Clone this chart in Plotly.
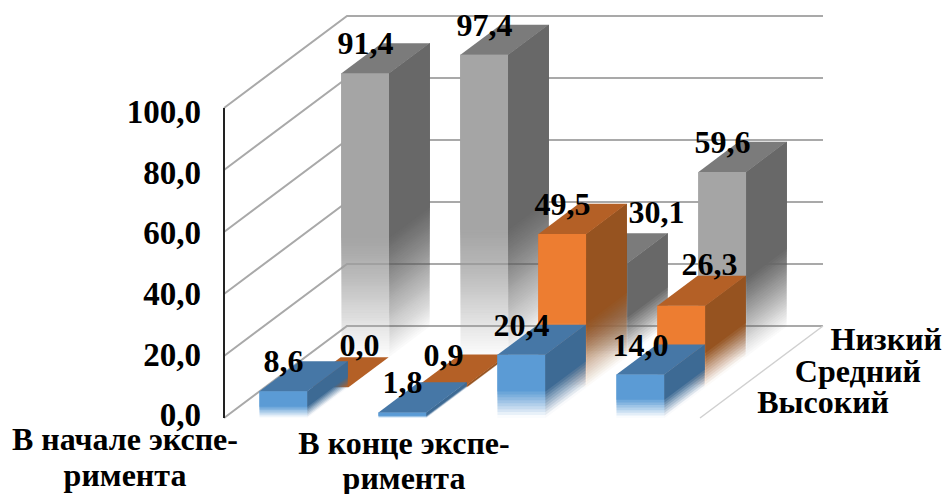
import plotly.graph_objects as go

# ---- data ----
category_lines = ["В начале экспе-", "римента", "В конце экспе-", "римента"]
series_names = ["Высокий", "Средний", "Низкий"]
high_values = [8.6, 1.8, 20.4, 14.0]
mid_values = [0.0, 0.9, 49.5, 26.3]
low_values = [91.4, 97.4, 30.1, 59.6]
axis_ticks = [0, 20, 40, 60, 80, 100]

# ---- oblique projection used as the chart's scale ----
X0, Y0 = 224, 418
PX_PER_UNIT = 3.1
LABEL_PX_PER_UNIT = 3.03
CAT_W = 119
BAR_W = 48
DEPTH_DX, DEPTH_DY = 41, -30.67


def proj(x, depth, value):
    return X0 + x + depth * DEPTH_DX, Y0 - value * PX_PER_UNIT + depth * DEPTH_DY


def fmt(v):
    return f"{v:.1f}".replace(".", ",")


FONT = "Liberation Serif"
GRID = "#a9a9a9"
INK = "#000000"
fig = go.Figure()


def poly(points, color):
    xs = [p[0] for p in points] + [points[0][0]]
    ys = [p[1] for p in points] + [points[0][1]]
    fig.add_trace(go.Scatter(x=xs, y=ys, mode="lines", fill="toself", fillcolor=color,
                             line=dict(width=0, color=color), hoverinfo="skip", showlegend=False))


def line(points, color, width):
    fig.add_trace(go.Scatter(x=[p[0] for p in points], y=[p[1] for p in points], mode="lines",
                             line=dict(width=width, color=color), hoverinfo="skip", showlegend=False))


# walls and floor
for t in axis_ticks:
    line([proj(0, 0, t), proj(0, 3, t), proj(476, 3, t)], GRID, 2)
line([proj(476, 3, 0), proj(476, 0, 0)], "#d0d0d0", 1.5)
line([proj(0, 0, 0), proj(0, 0, 100)], "#222222", 2)

FADE = 0.42


def faded_face(corner, value, rgb):
    """corner(v) gives the face polygon from height v up to the top."""
    layers = max(8, int(value * PX_PER_UNIT * FADE / 2.5))
    prev = 0.0
    for k in range(layers):
        frac = k / (layers - 1)
        target = 0.03 + 0.97 * frac
        a = 1 - (1 - target) / (1 - prev) if prev < 1 else 1
        prev = target
        poly(corner(value * FADE * frac), f"rgba({rgb[0]},{rgb[1]},{rgb[2]},{a:.4f})")


styles = [
    (high_values, (91, 155, 213), "#4677a6", (61, 106, 148)),
    (mid_values, (237, 125, 49), "#b46026", (150, 83, 32)),
    (low_values, (165, 165, 165), "#7b7b7b", (104, 104, 104)),
]

for depth in (2, 1, 0):
    values, front, top, side = styles[depth]
    for i, v in enumerate(values):
        xl = CAT_W * i + (CAT_W - BAR_W) / 2
        xr = xl + BAR_W
        d0, d1 = depth, depth + 0.98
        if v > 0:
            faded_face(lambda h, xl=xl, xr=xr, v=v: [proj(xl, d0, h), proj(xr, d0, h), proj(xr, d0, v), proj(xl, d0, v)], v, front)
            faded_face(lambda h, xr=xr, v=v: [proj(xr, d0, h), proj(xr, d1, h), proj(xr, d1, v), proj(xr, d0, v)], v, side)
        poly([proj(xl, d0, v), proj(xr, d0, v), proj(xr, d1, v), proj(xl, d1, v)], top)

# value labels: most sit above the bar's front face, three are moved aside
label_nudge = {(1, 0): (35, -12), (1, 3): (28, -12), (2, 2): (53, -21)}
lx, ly, lt = [], [], []
for depth in (2, 1, 0):
    values = styles[depth][0]
    for i, v in enumerate(values):
        cx = CAT_W * i + CAT_W / 2
        px, py = proj(cx, depth, v)
        nx, ny = label_nudge.get((depth, i), (0, 0))
        lx.append(px + nx)
        ly.append(py - 27 + ny)
        lt.append(fmt(v))
fig.add_trace(go.Scatter(x=lx, y=ly, mode="text", text=lt, textposition="middle center",
                         textfont=dict(family=FONT, size=32, color=INK), hoverinfo="skip", showlegend=False))

# value axis labels
fig.add_trace(go.Scatter(x=[201] * len(axis_ticks), y=[Y0 - t * LABEL_PX_PER_UNIT for t in axis_ticks], mode="text",
                         text=[fmt(t) for t in axis_ticks], textposition="middle left",
                         textfont=dict(family=FONT, size=33, color=INK), hoverinfo="skip", showlegend=False))

# category labels, one text per line
fig.add_trace(go.Scatter(x=[125, 125, 404, 404], y=[442, 478, 446, 481], mode="text", text=category_lines,
                         textposition="middle center",
                         textfont=dict(family=FONT, size=32, color=INK), hoverinfo="skip", showlegend=False))

# depth axis labels
fig.add_trace(go.Scatter(x=[889, 921, 942], y=[405, 374, 342], mode="text", text=series_names,
                         textposition="middle left",
                         textfont=dict(family=FONT, size=32, color=INK), hoverinfo="skip", showlegend=False))

fig.update_layout(width=945, height=494, margin=dict(l=0, r=0, t=0, b=0),
                  paper_bgcolor="white", plot_bgcolor="white", showlegend=False,
                  font=dict(family=FONT, size=29, color=INK))
fig.update_xaxes(range=[0, 945], visible=False)
fig.update_yaxes(range=[494, 0], visible=False)
fig.update_traces(textfont_weight="bold", selector=dict(mode="text"))
fig.write_html("out.html", config=dict(displayModeBar=False),
               post_script="document.body.style.margin='0';document.body.style.overflow='hidden';")
